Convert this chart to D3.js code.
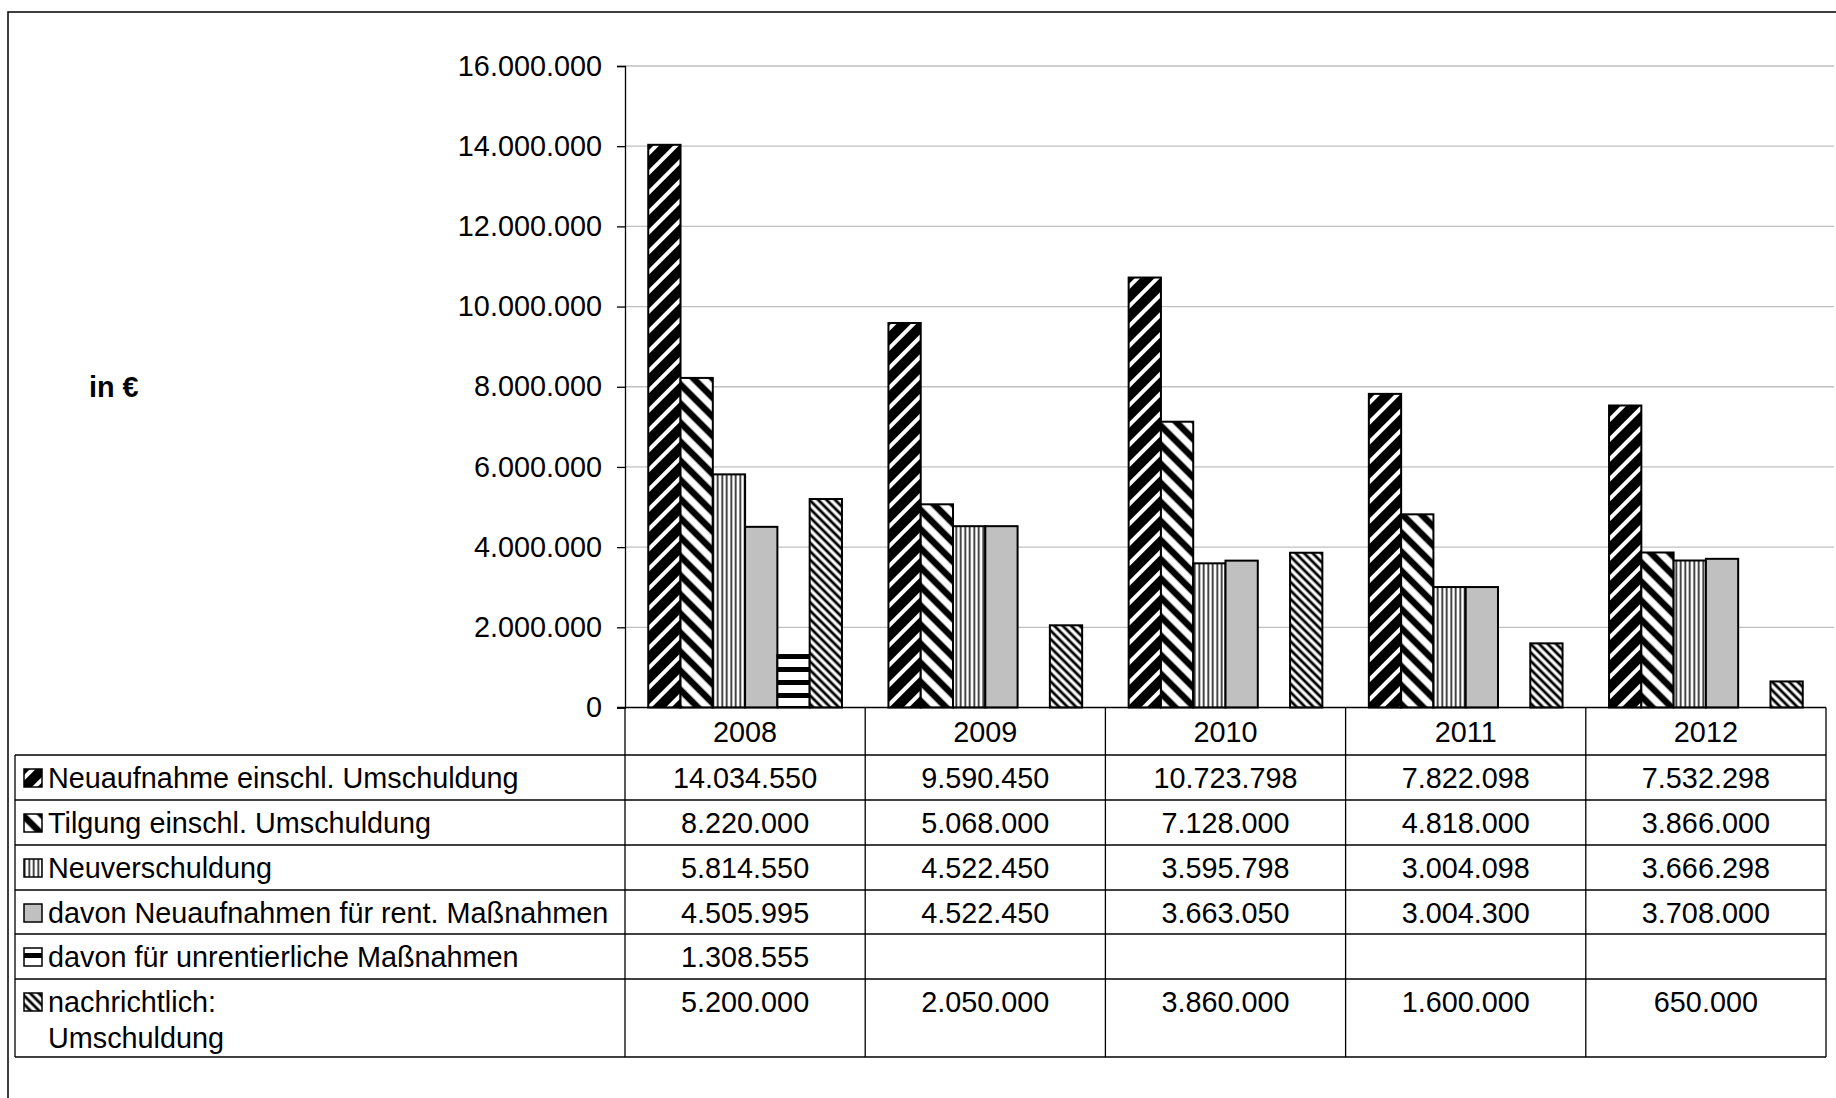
<!DOCTYPE html>
<html><head><meta charset="utf-8">
<script src="https://cdn.jsdelivr.net/npm/d3@7"></script>
<style>body{margin:0;background:#fff}svg{display:block}text{font-family:"Liberation Sans",Arial,sans-serif}</style>
</head><body><svg id="c" width="1836" height="1098"></svg>
<script>
// ---- data ----
const years = ["2008","2009","2010","2011","2012"];
const seriesLabels = [
  ["Neuaufnahme einschl. Umschuldung"],
  ["Tilgung einschl. Umschuldung"],
  ["Neuverschuldung"],
  ["davon Neuaufnahmen für rent. Maßnahmen"],
  ["davon für unrentierliche Maßnahmen"],
  ["nachrichtlich:","Umschuldung"]
];
const neuaufnahme     = [14034550, 9590450, 10723798, 7822098, 7532298];
const tilgung         = [8220000, 5068000, 7128000, 4818000, 3866000];
const neuverschuldung = [5814550, 4522450, 3595798, 3004098, 3666298];
const rentierlich     = [4505995, 4522450, 3663050, 3004300, 3708000];
const unrentierlich   = [1308555, null, null, null, null];
const umschuldung     = [5200000, 2050000, 3860000, 1600000, 650000];
const yTicks = [0, 2000000, 4000000, 6000000, 8000000, 10000000, 12000000, 14000000, 16000000];
const yLabel = "in €";

const seriesValues = [neuaufnahme, tilgung, neuverschuldung, rentierlich, unrentierlich, umschuldung];
const seriesIds = ["p0","p1","p2","p3","p4","p5"];

// ---- layout ----
const svg = d3.select("#c");
const FONT = 28.8;
const loc = d3.formatLocale({decimal:",", thousands:".", grouping:[3], currency:["","€"]});
const fmt = loc.format(",");

const left = 625, right = 1826;
const y = d3.scaleLinear().domain([0, 16000000]).range([707.5, 66]);
const x = d3.scaleBand().domain(years).range([left, right]).paddingInner(0).paddingOuter(0);
const xs = d3.scaleBand().domain(d3.range(6)).range([0, x.bandwidth()]).paddingInner(0).paddingOuter(0.72);

// ---- patterns ----
const defs = svg.append("defs");
function stripes(id, period, lineW, rot, bg, fg) {
  const p = defs.append("pattern").attr("id", id).attr("patternUnits","userSpaceOnUse")
    .attr("width", period).attr("height", period);
  if (rot !== null) p.attr("patternTransform", `rotate(${rot})`);
  p.append("rect").attr("width", period).attr("height", period).attr("fill", bg);
  p.append("rect").attr("x", (period-lineW)/2).attr("y", 0).attr("width", lineW).attr("height", period).attr("fill", fg);
}
stripes("p0", 14, 4, 45, "#000", "#fff");
stripes("p1", 13.5, 6.5, -45, "#fff", "#000");
stripes("p2", 4.5, 1.7, 0, "#fff", "#222");
defs.append("pattern").attr("id","p3").attr("patternUnits","userSpaceOnUse").attr("width",10).attr("height",10)
  .append("rect").attr("width",10).attr("height",10).attr("fill","#c0c0c0");
stripes("p4", 13, 5, 90, "#fff", "#000");
stripes("p5", 6, 2.8, -45, "#fff", "#000");

// outer frame
svg.append("rect").attr("x",8).attr("y",12).attr("width",1900).attr("height",1200)
  .attr("fill","none").attr("stroke","#000").attr("stroke-width",1.5);

// gridlines
svg.append("g").selectAll("line").data(yTicks.filter(d => d > 0)).join("line")
  .attr("x1", left).attr("x2", 1834).attr("y1", d => y(d)).attr("y2", d => y(d))
  .attr("stroke","#c0c0c0").attr("stroke-width",1.3);

// y axis
const yAxis = d3.axisLeft(y).tickValues(yTicks).tickFormat(d => fmt(d)).tickSize(8).tickPadding(15);
const ga = svg.append("g").attr("transform", `translate(${left},0)`).call(yAxis);
ga.select(".domain").attr("stroke","#000").attr("stroke-width",1.3);
ga.selectAll(".tick line").attr("stroke","#000").attr("stroke-width",1.3);
ga.selectAll(".tick text").attr("font-size", FONT).attr("fill","#000")
  .attr("font-family",'"Liberation Sans",Arial,sans-serif');

// y label
svg.append("text").attr("x", 89).attr("y", 397).attr("font-size", FONT).attr("font-weight","bold").text(yLabel);

// bars
const gBars = svg.append("g");
seriesValues.forEach((vals, si) => {
  gBars.append("g").selectAll("rect").data(vals.map((v,i)=>({v, yr: years[i]})).filter(d => d.v !== null)).join("rect")
    .attr("x", d => x(d.yr) + xs(si))
    .attr("width", xs.bandwidth())
    .attr("y", d => y(d.v))
    .attr("height", d => y(0) - y(d.v))
    .attr("fill", `url(#${seriesIds[si]})`)
    .attr("stroke","#000").attr("stroke-width",2);
});

// ---- data table ----
const rowTops = [755, 800, 845, 890, 934, 979];
const tableBottom = 1057;
const tbl = svg.append("g").attr("stroke","#000").attr("stroke-width",1.3);
// axis baseline across table top
tbl.append("line").attr("x1", left-8).attr("x2", right).attr("y1", y(0)).attr("y2", y(0));
rowTops.concat([tableBottom]).forEach(yy => {
  tbl.append("line").attr("x1", 15).attr("x2", right).attr("y1", yy).attr("y2", yy);
});
tbl.append("line").attr("x1", 15).attr("x2", 15).attr("y1", 755).attr("y2", tableBottom);
years.forEach(yr => {
  tbl.append("line").attr("x1", x(yr)).attr("x2", x(yr)).attr("y1", y(0)).attr("y2", tableBottom);
});
tbl.append("line").attr("x1", right).attr("x2", right).attr("y1", y(0)).attr("y2", tableBottom);

// year headers
svg.append("g").selectAll("text").data(years).join("text")
  .attr("x", d => x(d) + x.bandwidth()/2).attr("y", 742)
  .attr("text-anchor","middle").attr("font-size", FONT).text(d => d);

// row labels with legend keys
seriesLabels.forEach((lines, si) => {
  const top = rowTops[si];
  svg.append("rect").attr("x", 24).attr("y", top + 14).attr("width", 18).attr("height", 18)
    .attr("fill", `url(#${seriesIds[si]})`).attr("stroke","#000").attr("stroke-width",1.5);
  lines.forEach((ln, li) => {
    svg.append("text").attr("x", 48).attr("y", top + 33 + li*36).attr("font-size", FONT).text(ln);
  });
  svg.append("g").selectAll("text").data(seriesValues[si]).join("text")
    .attr("x", (d,i) => x(years[i]) + x.bandwidth()/2).attr("y", top + 33)
    .attr("text-anchor","middle").attr("font-size", FONT)
    .text(d => d === null ? "" : fmt(d));
});
</script></body></html>
